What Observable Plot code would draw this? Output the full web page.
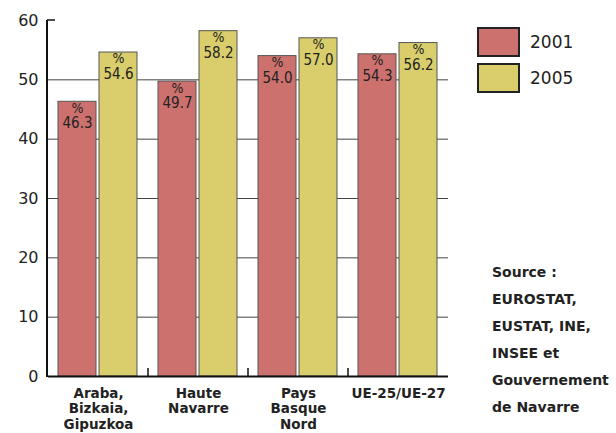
<!DOCTYPE html>
<html>
<head>
<meta charset="utf-8">
<script src="https://cdn.jsdelivr.net/npm/d3@7"></script>
<script src="https://cdn.jsdelivr.net/npm/@observablehq/plot@0.6"></script>
<style>
  html, body { margin: 0; padding: 0; background: #fff; }
  #wrap { position: relative; width: 616px; height: 433px; overflow: hidden; font-family: "DejaVu Sans", sans-serif; color: #222; }
  .leg { position: absolute; display: flex; align-items: center; font-size: 17px; }
  .sw { width: 39px; height: 26px; border: 2px solid #222; margin-right: 10px; }
  #source { position: absolute; left: 492px; top: 259px; font-weight: bold; font-size: 14px; line-height: 27px; white-space: nowrap; }
</style>
</head>
<body>
<div id="wrap"></div>
<script>
const groups = ["Araba, Bizkaia, Gipuzkoa", "Haute Navarre", "Pays Basque Nord", "UE-25/UE-27"];
const groupLabels = ["Araba,\nBizkaia,\nGipuzkoa", "Haute\nNavarre", "Pays\nBasque\nNord", "UE-25/UE-27"];
const years = ["2001", "2005"];
const values2001 = [46.3, 49.7, 54.0, 54.3];
const values2005 = [54.6, 58.2, 57.0, 56.2];
const yTicks = [0, 10, 20, 30, 40, 50, 60];
const gridValues = [10, 20, 30, 40, 50];
const colors = ["#cd716e", "#d9ce6b"];
const sourceLines = ["Source :", "EUROSTAT,", "EUSTAT, INE,", "INSEE et", "Gouvernement", "de Navarre"];

const data = [];
groups.forEach((g, i) => {
  data.push({group: g, year: years[0], value: values2001[i]});
  data.push({group: g, year: years[1], value: values2005[i]});
});

const labelFont = "DejaVu Sans Condensed, DejaVu Sans, sans-serif";

const chart = Plot.plot({
  width: 616,
  height: 433,
  marginLeft: 47,
  marginRight: 167,
  marginTop: 20,
  marginBottom: 57,
  style: {fontFamily: "DejaVu Sans, sans-serif", color: "#222", background: "transparent"},
  fx: {domain: groups, padding: 0, label: null},
  x: {domain: years, paddingInner: 0.07, paddingOuter: 0.23, axis: null},
  y: {domain: [0, 60], label: null},
  color: {domain: years, range: colors},
  marks: [
    Plot.ruleY(gridValues, {stroke: "#444", strokeWidth: 1}),
    Plot.barY(data, {fx: "group", x: "year", y: "value", fill: "year", stroke: "#555", strokeWidth: 1}),
    Plot.text(data, {
      fx: "group", x: "year", y: "value", text: () => "%",
      lineAnchor: "top", dy: 1, fontSize: 14, fill: "#222", fontFamily: labelFont
    }),
    Plot.text(data, {
      fx: "group", x: "year", y: "value", text: d => d.value.toFixed(1),
      lineAnchor: "top", dy: 16, fontSize: 15, fill: "#222", fontFamily: labelFont
    }),
    Plot.ruleY([0], {stroke: "#111", strokeWidth: 2}),
    Plot.axisY(yTicks, {anchor: "left", tickSize: 0, tickPadding: 10, fontSize: 16, label: null}),
    Plot.axisFx({
      anchor: "bottom", tickSize: 0, tickPadding: 10, label: null,
      tickFormat: d => groupLabels[groups.indexOf(d)],
      fontSize: 13.5, fontWeight: "bold", lineHeight: 1.15
    })
  ]
});

// axis line, top tick and group separator ticks from the plot's own scales
const svg = d3.select(chart);
const ys = chart.scale("y");
const fxs = chart.scale("fx");
const yPix = v => ys.apply(v);
const left = 47;
svg.append("line").attr("x1", left).attr("x2", left).attr("y1", yPix(60)).attr("y2", yPix(0) + 1)
  .attr("stroke", "#111").attr("stroke-width", 2);
svg.append("line").attr("x1", left).attr("x2", left + 8).attr("y1", yPix(60)).attr("y2", yPix(60))
  .attr("stroke", "#111").attr("stroke-width", 1.5);
groups.slice(1).forEach(g => {
  const xb = fxs.apply(g);
  svg.append("line").attr("x1", xb).attr("x2", xb).attr("y1", yPix(0)).attr("y2", yPix(0) - 8)
    .attr("stroke", "#111").attr("stroke-width", 1.5);
});

const wrap = document.getElementById("wrap");
wrap.appendChild(chart);

years.forEach((yr, i) => {
  const item = document.createElement("div");
  item.className = "leg";
  item.style.left = "477px";
  item.style.top = (27 + i * 36) + "px";
  const sw = document.createElement("div");
  sw.className = "sw";
  sw.style.background = colors[i];
  item.appendChild(sw);
  const t = document.createElement("span");
  t.textContent = yr;
  item.appendChild(t);
  wrap.appendChild(item);
});

const src = document.createElement("div");
src.id = "source";
src.innerHTML = sourceLines.map(s => s.replace(/&/g, "&amp;")).join("<br>");
wrap.appendChild(src);
</script>
</body>
</html>
